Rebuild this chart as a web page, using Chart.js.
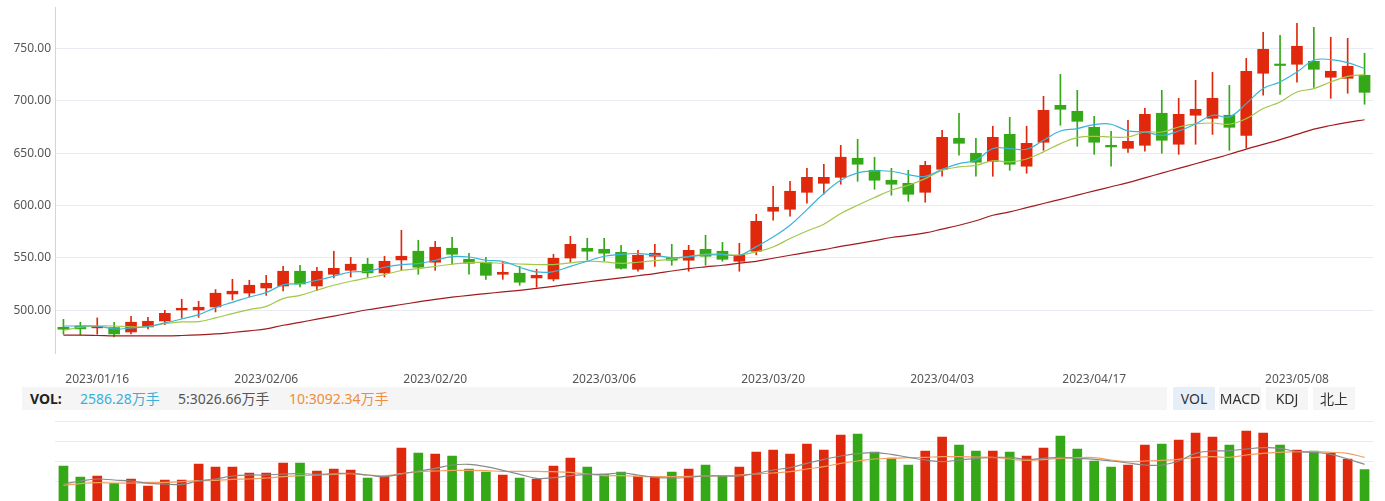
<!DOCTYPE html>
<html>
<head>
<meta charset="utf-8">
<script src="https://cdn.jsdelivr.net/npm/chart.js@4.4.1/dist/chart.umd.min.js"></script>
<style>
  html, body { margin: 0; padding: 0; background: #fff; }
  body { width: 1385px; height: 501px; overflow: hidden; position: relative; font-family: "Noto Sans", "Noto Sans CJK SC", sans-serif; }
  #price { position: absolute; left: 0; top: 0; }
  #volume { position: absolute; left: 0; top: 411px; }
  .bar { position: absolute; top: 387px; height: 23px; left: 22px; width: 1145px; background: #f5f5f5; font-size: 14px; line-height: 23px; white-space: nowrap; }
  .bar span { position: absolute; top: 0; }
  .tabs { position: absolute; top: 387px; left: 1173px; height: 23px; }
  .tab { position: absolute; top: 0; height: 23px; width: 42px; background: #f5f5f5; color: #333; font-size: 14px; line-height: 23px; text-align: center; }
  .tab.on { background: #e6eef8; }
</style>
</head>
<body>
<canvas id="price" width="1385" height="390"></canvas>
<div class="bar">
  <span style="left:8px;font-weight:bold;color:#222">VOL:</span>
  <span id="vol-now" style="left:58px;color:#3ab0d8"></span>
  <span id="vol-ma5" style="left:156px;color:#555"></span>
  <span id="vol-ma10" style="left:267px;color:#f08c3c"></span>
</div>
<div class="tabs">
  <div class="tab on" style="left:0">VOL</div>
  <div class="tab" style="left:46px">MACD</div>
  <div class="tab" style="left:93px">KDJ</div>
  <div class="tab" style="left:140px">北上</div>
</div>
<canvas id="volume" width="1385" height="115"></canvas>
<script>
// === Data ===
const dates = [
  '2023/01/12', '2023/01/13', '2023/01/16', '2023/01/17', '2023/01/18', '2023/01/19', '2023/01/20',
  '2023/01/30', '2023/01/31', '2023/02/01', '2023/02/02', '2023/02/03',
  '2023/02/06', '2023/02/07', '2023/02/08', '2023/02/09', '2023/02/10',
  '2023/02/13', '2023/02/14', '2023/02/15', '2023/02/16', '2023/02/17',
  '2023/02/20', '2023/02/21', '2023/02/22', '2023/02/23', '2023/02/24',
  '2023/02/27', '2023/02/28', '2023/03/01', '2023/03/02', '2023/03/03',
  '2023/03/06', '2023/03/07', '2023/03/08', '2023/03/09', '2023/03/10',
  '2023/03/13', '2023/03/14', '2023/03/15', '2023/03/16', '2023/03/17',
  '2023/03/20', '2023/03/21', '2023/03/22', '2023/03/23', '2023/03/24',
  '2023/03/27', '2023/03/28', '2023/03/29', '2023/03/30', '2023/03/31',
  '2023/04/03', '2023/04/04', '2023/04/06', '2023/04/07',
  '2023/04/10', '2023/04/11', '2023/04/12', '2023/04/13', '2023/04/14',
  '2023/04/17', '2023/04/18', '2023/04/19', '2023/04/20', '2023/04/21',
  '2023/04/24', '2023/04/25', '2023/04/26', '2023/04/27', '2023/04/28',
  '2023/05/04', '2023/05/05',
  '2023/05/08', '2023/05/09', '2023/05/10', '2023/05/11', '2023/05/12'
];

const tickDates = ['2023/01/16', '2023/02/06', '2023/02/20', '2023/03/06', '2023/03/20', '2023/04/03', '2023/04/17', '2023/05/08'];
const priceTicks = [500, 550, 600, 650, 700, 750];

const open = [
  483.8, 485.0, 483.2, 483.5, 479.3, 484.1, 489.8, 500.3, 500.3, 503.2,
  515.6, 516.5, 521.3, 523.2, 537.3, 523.2, 534.4, 538.2, 544.0, 535.7,
  548.1, 556.4, 545.9, 559.2, 548.7, 545.9, 534.4, 535.4, 530.9, 529.9,
  549.9, 559.2, 558.3, 555.4, 539.2, 551.6, 549.7, 547.8, 558.3, 556.4,
  546.8, 556.4, 594.6, 596.5, 612.7, 621.3, 627.0, 645.2, 633.7, 624.2,
  621.3, 612.7, 634.7, 664.3, 650.0, 642.3, 668.1, 637.6, 660.5, 695.8,
  690.1, 674.8, 657.6, 654.7, 657.6, 688.2, 658.6, 686.3, 683.4, 686.3,
  667.0, 726.4, 734.3, 735.0, 737.8, 722.6, 721.6, 724.5
];
const close = [
  481.9, 482.2, 483.8, 477.4, 488.6, 489.5, 497.1, 501.9, 502.9, 516.3,
  518.2, 523.9, 525.8, 537.3, 525.1, 537.3, 540.1, 544.0, 535.7, 546.8,
  551.6, 541.1, 560.2, 553.5, 544.9, 533.4, 536.3, 526.8, 533.4, 549.7,
  563.0, 556.4, 554.5, 540.1, 552.6, 554.5, 547.8, 557.3, 551.6, 548.7,
  552.6, 585.0, 598.4, 613.7, 627.0, 627.0, 646.2, 639.5, 624.2, 620.4,
  610.8, 638.5, 665.2, 659.5, 641.4, 665.2, 639.5, 659.5, 691.0, 692.0,
  680.5, 660.5, 656.0, 661.4, 687.2, 662.4, 687.2, 692.0, 702.5, 674.8,
  728.3, 749.3, 733.8, 752.2, 730.2, 728.3, 733.1, 708.2
];
const high = [
  491.4, 488.6, 492.7, 488.6, 494.3, 493.3, 500.0, 510.5, 508.6, 519.8,
  529.6, 528.7, 533.4, 542.0, 543.0, 541.1, 556.4, 550.6, 549.7, 551.6,
  576.4, 566.9, 565.9, 569.7, 554.5, 550.6, 545.9, 542.0, 539.2, 553.5,
  570.7, 568.8, 568.8, 562.1, 557.3, 563.0, 563.0, 562.1, 571.6, 564.9,
  564.0, 591.7, 618.4, 623.2, 635.6, 639.5, 657.6, 663.3, 646.2, 635.6,
  633.7, 642.3, 671.9, 688.2, 664.3, 675.8, 684.3, 675.8, 704.4, 725.4,
  710.1, 685.3, 671.0, 681.5, 692.9, 710.1, 702.5, 719.7, 727.3, 714.9,
  740.7, 765.5, 762.7, 774.1, 770.3, 760.8, 759.8, 745.5
];
const low = [
  477.1, 476.4, 477.1, 474.5, 477.4, 482.2, 486.3, 492.4, 493.3, 498.4,
  509.9, 512.7, 514.3, 518.5, 522.3, 518.8, 530.9, 531.8, 531.8, 531.8,
  538.2, 534.4, 538.2, 544.0, 534.4, 529.6, 529.6, 523.9, 522.0, 528.0,
  545.9, 547.8, 546.8, 539.2, 537.3, 542.0, 543.0, 537.3, 543.0, 546.8,
  537.3, 553.0, 586.0, 589.8, 602.2, 610.8, 620.4, 623.2, 615.6, 609.9,
  604.1, 603.2, 628.0, 648.1, 628.0, 628.0, 633.7, 630.9, 652.8, 676.7,
  656.7, 649.0, 637.6, 650.9, 651.9, 650.0, 649.0, 658.6, 668.0, 652.8,
  655.0, 705.4, 706.3, 717.8, 713.0, 702.5, 707.3, 696.8
];

const ma5 = [
  485.0, 485.0, 485.0, 482.2, 483.1, 484.5, 487.9, 491.7, 495.9, 502.6,
  507.6, 512.7, 516.9, 524.3, 525.5, 528.7, 532.5, 536.6, 537.3, 541.1,
  543.7, 544.6, 547.8, 551.3, 550.9, 547.8, 546.8, 541.1, 536.6, 537.0,
  542.0, 546.8, 551.6, 553.5, 554.2, 552.6, 550.3, 551.3, 552.8, 553.2,
  552.6, 560.8, 570.0, 581.2, 596.2, 611.5, 624.2, 631.3, 633.1, 632.8,
  629.6, 628.0, 634.7, 640.1, 643.3, 654.5, 654.5, 653.8, 662.4, 671.3,
  673.6, 677.4, 677.7, 671.3, 670.3, 667.2, 671.3, 678.0, 686.3, 684.7,
  697.4, 711.8, 718.1, 727.6, 738.8, 739.5, 736.6, 730.9
];
const ma10 = [
  480.9, 483.8, 485.0, 485.0, 484.1, 484.5, 487.3, 488.9, 489.2, 492.7,
  496.8, 500.7, 503.8, 511.2, 514.3, 519.1, 523.9, 527.7, 530.9, 534.1,
  538.0, 539.8, 542.0, 544.0, 545.6, 545.6, 544.9, 544.2, 543.7, 543.7,
  545.3, 546.8, 546.2, 544.9, 545.9, 547.5, 548.8, 551.3, 553.5, 553.5,
  552.8, 555.8, 560.5, 568.5, 575.8, 582.2, 592.4, 600.3, 607.7, 614.7,
  619.4, 625.8, 633.7, 636.9, 638.5, 642.8, 641.7, 644.5, 651.3, 659.2,
  665.0, 666.2, 665.5, 665.5, 670.3, 670.3, 675.1, 678.0, 678.9, 677.7,
  683.1, 692.7, 699.0, 708.5, 711.8, 718.1, 723.5, 725.1
];
const ma30 = [
  476.2, 476.2, 475.9, 475.5, 475.5, 475.5, 475.5, 475.9, 476.5, 477.4,
  478.8, 480.4, 482.2, 485.7, 488.5, 491.5, 494.5, 497.5, 500.5, 503.0,
  505.5, 508.0, 510.5, 512.5, 514.3, 516.0, 517.5, 519.1, 520.9, 522.9,
  525.0, 527.0, 529.0, 530.9, 533.0, 535.1, 537.5, 539.8, 541.5, 543.0,
  545.0, 546.8, 549.7, 552.6, 555.3, 558.0, 561.0, 563.7, 566.5, 569.5,
  571.5, 573.9, 577.5, 581.2, 585.5, 590.8, 594.0, 598.0, 602.0, 606.0,
  610.0, 614.0, 618.0, 622.0, 626.5, 631.0, 635.5, 640.0, 644.5, 649.0,
  654.0, 658.5, 663.0, 668.0, 673.0, 676.5, 679.5, 682.0
];

// volume in 万手
const volume = [
  2761, 2214, 2264, 1899, 2114, 1766, 2065, 2065, 2861, 2711,
  2711, 2413, 2413, 2910, 2910, 2512, 2612, 2562, 2164, 2264,
  3657, 3408, 3358, 3259, 2612, 2463, 2313, 2164, 2114, 2761,
  3159, 2711, 2363, 2463, 2264, 2214, 2463, 2612, 2811, 2264,
  2711, 3458, 3557, 3358, 3856, 3557, 4303, 4353, 3458, 3159,
  2811, 3507, 4204, 3806, 3507, 3507, 3458, 3259, 3657, 4254,
  3607, 3010, 2711, 2811, 3806, 3856, 4055, 4403, 4204, 3806,
  4502, 4403, 3806, 3557, 3507, 3408, 3109, 2586
];
const volMa5 = [
  1866, 2015, 2114, 2065, 2015, 1899, 1866, 1849, 2015, 2114,
  2264, 2313, 2313, 2363, 2380, 2346, 2380, 2396, 2313, 2230,
  2363, 2512, 2645, 2811, 2844, 2728, 2545, 2346, 2147, 2181,
  2280, 2346, 2346, 2413, 2313, 2197, 2164, 2197, 2264, 2264,
  2264, 2396, 2562, 2678, 2894, 3093, 3259, 3375, 3425, 3342,
  3192, 3060, 2977, 3060, 3143, 3176, 3192, 3093, 3143, 3192,
  3143, 3093, 3010, 2911, 2811, 2811, 3010, 3392, 3507, 3524,
  3607, 3673, 3640, 3474, 3441, 3342, 3109, 2844
];
const volMa10 = [
  1799, 1882, 1932, 1915, 1915, 1932, 1948, 1982, 2032, 2048,
  2098, 2114, 2164, 2230, 2280, 2313, 2346, 2380, 2313, 2280,
  2380, 2479, 2512, 2545, 2545, 2529, 2496, 2496, 2496, 2479,
  2446, 2363, 2280, 2280, 2247, 2230, 2230, 2247, 2264, 2280,
  2313, 2363, 2413, 2479, 2612, 2728, 2894, 3010, 3109, 3143,
  3176, 3192, 3226, 3226, 3209, 3192, 3109, 3043, 3076, 3143,
  3176, 3176, 3060, 2977, 3010, 3043, 3093, 3192, 3226, 3192,
  3309, 3392, 3441, 3474, 3474, 3441, 3392, 3192
];

const volLegend = { now: '2586.28', ma5: '3026.66', ma10: '3092.34' };

// === Styles ===
const UP = '#e0290c';
const DOWN = '#35a817';
const GRID = '#e8ebf1';
const FONT = { family: '"Noto Sans", "Noto Sans CJK SC", sans-serif', size: 12 };

const candleColors = open.map((o, i) => close[i] >= o ? UP : DOWN);

function lineSet(data, color) {
  return {
    type: 'line',
    data,
    borderColor: color,
    borderWidth: 1.2,
    pointRadius: 0,
    tension: 0.4,
    fill: false,
    order: 0
  };
}

// fixed axis width, no extra room reserved for edge labels
function fixWidth(axis) {
  axis.width = 55;
  axis.paddingTop = 0;
  axis.paddingBottom = 0;
}

// === Price Chart ===
new Chart(document.getElementById('price'), {
  type: 'bar',
  data: {
    labels: dates,
    datasets: [
      lineSet(ma5, '#3ab4d9'),
      lineSet(ma10, '#a2c84a'),
      lineSet(ma30, '#a11a1e'),
      {
        data: open.map((o, i) => [o, close[i]]),
        backgroundColor: candleColors,
        barThickness: 11,
        minBarLength: 1.5,
        grouped: false,
        order: 1
      },
      {
        data: low.map((l, i) => [l, high[i]]),
        backgroundColor: candleColors,
        barThickness: 1,
        grouped: false,
        order: 2
      }
    ]
  },
  options: {
    responsive: false,
    animation: false,
    layout: { padding: { top: 7, right: 12, left: 0, bottom: 0 } },
    plugins: { legend: { display: false }, tooltip: { enabled: false } },
    scales: {
      x: {
        grid: { display: false },
        border: { display: false },
        afterFit: axis => { axis.height = 37; },
        ticks: {
          autoSkip: false,
          maxRotation: 0,
          padding: 11,
          color: '#555',
          font: FONT,
          callback: (v, i) => tickDates.includes(dates[i]) ? dates[i] : ''
        }
      },
      y: {
        min: 459.2,
        max: 789.7,
        afterBuildTicks: axis => { axis.ticks = priceTicks.map(v => ({ value: v })); },
        afterFit: fixWidth,
        grid: { color: GRID, drawTicks: false },
        border: { display: true, color: '#cdd6e3' },
        ticks: {
          padding: 4,
          color: '#555',
          font: FONT,
          callback: v => Number(v).toFixed(2)
        }
      }
    }
  }
});

// === Volume Chart ===
new Chart(document.getElementById('volume'), {
  type: 'bar',
  data: {
    labels: dates,
    datasets: [
      lineSet(volMa5, '#8a8a8a'),
      lineSet(volMa10, '#f0a060'),
      {
        data: volume,
        backgroundColor: candleColors,
        barThickness: 9,
        grouped: false,
        order: 1
      }
    ]
  },
  options: {
    responsive: false,
    animation: false,
    layout: { padding: { top: 10, right: 12, left: 0, bottom: 4.5 } },
    plugins: { legend: { display: false }, tooltip: { enabled: false } },
    scales: {
      x: { display: false },
      y: {
        min: 0,
        max: 5000,
        afterFit: fixWidth,
        grid: { color: GRID, drawTicks: false },
        border: { display: false },
        ticks: { display: false, stepSize: 1000 }
      }
    }
  }
});

// === Legend Row ===
document.getElementById('vol-now').textContent = `${volLegend.now}万手`;
document.getElementById('vol-ma5').textContent = `5:${volLegend.ma5}万手`;
document.getElementById('vol-ma10').textContent = `10:${volLegend.ma10}万手`;
</script>
</body>
</html>
